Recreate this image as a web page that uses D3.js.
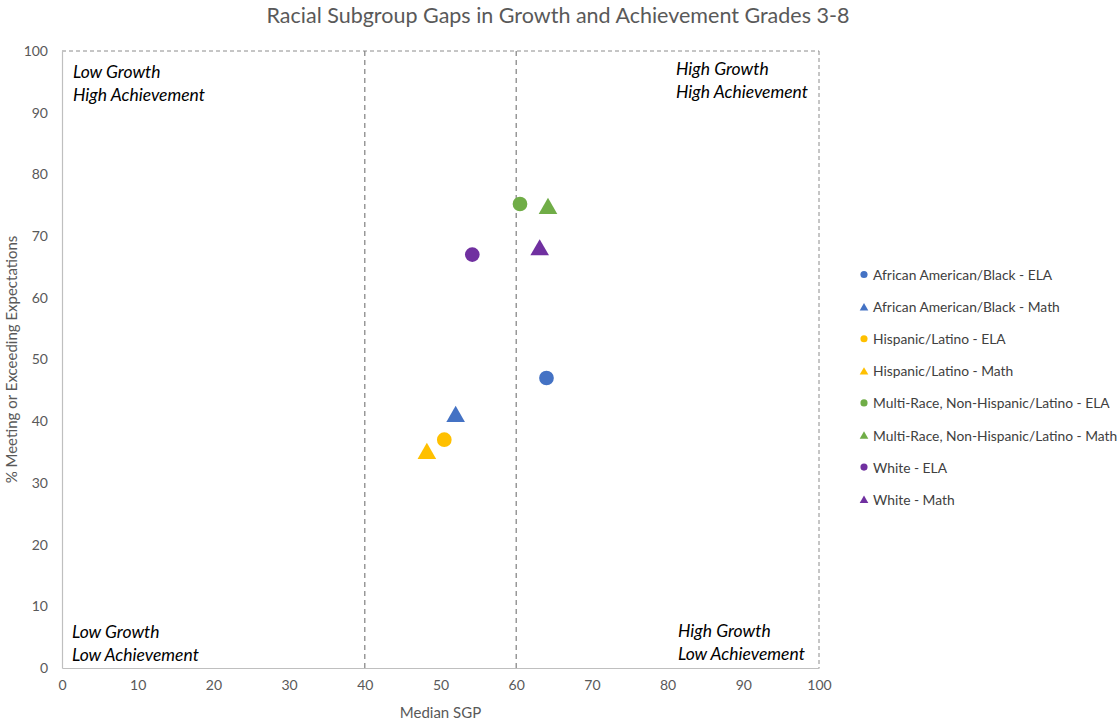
<!DOCTYPE html>
<html>
<head>
<meta charset="utf-8">
<script src="https://d3js.org/d3.v7.min.js"></script>
<style>
  body { margin: 0; background: #fff; }
  svg { display: block; }
  text { font-family: Lato, "Open Sans", sans-serif; }
</style>
</head>
<body>
<svg id="chart" width="1120" height="722"></svg>
<script>
const seriesNames = [
  "African American/Black - ELA",
  "African American/Black - Math",
  "Hispanic/Latino - ELA",
  "Hispanic/Latino - Math",
  "Multi-Race, Non-Hispanic/Latino - ELA",
  "Multi-Race, Non-Hispanic/Latino - Math",
  "White - ELA",
  "White - Math"
];
const medianSGP = [64, 52, 50.5, 48.2, 60.5, 64.2, 54.2, 63.1];
const pctMeeting = [47, 41, 37, 35, 75.2, 74.7, 67, 68];
const seriesColors = ["#4472C4", "#4472C4", "#FFC000", "#FFC000", "#70AD47", "#70AD47", "#7030A0", "#7030A0"];
const seriesShapes = ["circle", "triangle", "circle", "triangle", "circle", "triangle", "circle", "triangle"];
const xTicks = [0, 10, 20, 30, 40, 50, 60, 70, 80, 90, 100];
const yTicks = [0, 10, 20, 30, 40, 50, 60, 70, 80, 90, 100];
const cutLines = [40, 60];
const quadrantLabels = [
  ["Low Growth", "High Achievement"],
  ["High Growth", "High Achievement"],
  ["Low Growth", "Low Achievement"],
  ["High Growth", "Low Achievement"]
];

(function () {
const svg = d3.select("#chart");
const pL = 62, pR = 819, pT = 51, pB = 668;
const x = d3.scaleLinear().domain([0, 100]).range([pL, pR]);
const y = d3.scaleLinear().domain([0, 100]).range([pB, pT]);

// Title
svg.append("text").attr("x", 558).attr("y", 23).attr("text-anchor", "middle")
  .attr("font-size", 21.5).attr("fill", "#595959")
  .text("Racial Subgroup Gaps in Growth and Achievement Grades 3-8");

// dashed top and right border
svg.append("line").attr("x1", x(0)).attr("x2", x(100)).attr("y1", y(100)).attr("y2", y(100))
  .attr("stroke", "#8c8c8c").attr("stroke-dasharray", "4,3").attr("stroke-width", 1);
svg.append("line").attr("x1", x(100)).attr("x2", x(100)).attr("y1", y(100)).attr("y2", y(0))
  .attr("stroke", "#8c8c8c").attr("stroke-dasharray", "4,3").attr("stroke-width", 1);

// cut lines
svg.selectAll(".cut").data(cutLines).enter().append("line")
  .attr("x1", d => x(d)).attr("x2", d => x(d)).attr("y1", y(100)).attr("y2", y(0))
  .attr("stroke", "#7f7f7f").attr("stroke-dasharray", "5,4").attr("stroke-width", 1.2);

// axes
const xAxis = d3.axisBottom(x).tickValues(xTicks).tickSize(0).tickPadding(12);
const gx = svg.append("g").attr("transform", `translate(0,${pB})`).call(xAxis);
gx.select(".domain").attr("stroke", "#bfbfbf").attr("stroke-width", 1.2);
gx.selectAll("text").attr("fill", "#595959").attr("font-size", 14).attr("font-family", "Lato, sans-serif");

const yAxis = d3.axisLeft(y).tickValues(yTicks).tickSize(0).tickPadding(14);
const gy = svg.append("g").attr("transform", `translate(${pL},0)`).call(yAxis);
gy.select(".domain").attr("stroke", "#bfbfbf").attr("stroke-width", 1.2);
gy.selectAll("text").attr("fill", "#595959").attr("font-size", 14).attr("font-family", "Lato, sans-serif");

// axis titles
svg.append("text").attr("x", (pL + pR) / 2).attr("y", 718).attr("text-anchor", "middle")
  .attr("font-size", 15).attr("fill", "#595959").text("Median SGP");
svg.append("text").attr("transform", `translate(17,${(pT + pB) / 2}) rotate(-90)`)
  .attr("text-anchor", "middle").attr("font-size", 15).attr("fill", "#595959")
  .text("% Meeting or Exceeding Expectations");

// quadrant labels
const qPos = [
  {x: 73, y: 78},
  {x: 676, y: 75},
  {x: 72, y: 638},
  {x: 678, y: 637}
];
quadrantLabels.forEach((lines, i) => {
  const t = svg.append("text").attr("x", qPos[i].x).attr("y", qPos[i].y)
    .attr("font-size", 17.5).attr("font-style", "italic").attr("fill", "#000");
  lines.forEach((l, j) => {
    t.append("tspan").attr("x", qPos[i].x).attr("dy", j === 0 ? 0 : 22.5).text(l);
  });
});

// points
const symCircle = d3.symbol().type(d3.symbolCircle);
const symTri = d3.symbol().type(d3.symbolTriangle);
const pts = seriesNames.map((n, i) => ({n, x: medianSGP[i], y: pctMeeting[i], c: seriesColors[i], s: seriesShapes[i]}));
svg.selectAll(".pt").data(pts).enter().append("path")
  .attr("transform", d => `translate(${x(d.x)},${y(d.y) + (d.s === "triangle" ? 1.5 : 0)})`)
  .attr("d", d => d.s === "circle" ? symCircle.size(170)() : symTri.size(150)())
  .attr("fill", d => d.c);

// legend
const lg = svg.append("g").attr("transform", "translate(864,275)");
pts.forEach((d, i) => {
  const g = lg.append("g").attr("transform", `translate(0,${i * 32.1})`);
  g.append("path").attr("transform", d.s === "triangle" ? "translate(0,0.8)" : "translate(0,-0.5)")
    .attr("d", d.s === "circle" ? symCircle.size(40)() : symTri.size(32)())
    .attr("fill", d.c);
  g.append("text").attr("x", 9).attr("y", 5).attr("font-size", 13.8).attr("fill", "#404040").text(d.n);
});
})();
</script>
</body>
</html>
